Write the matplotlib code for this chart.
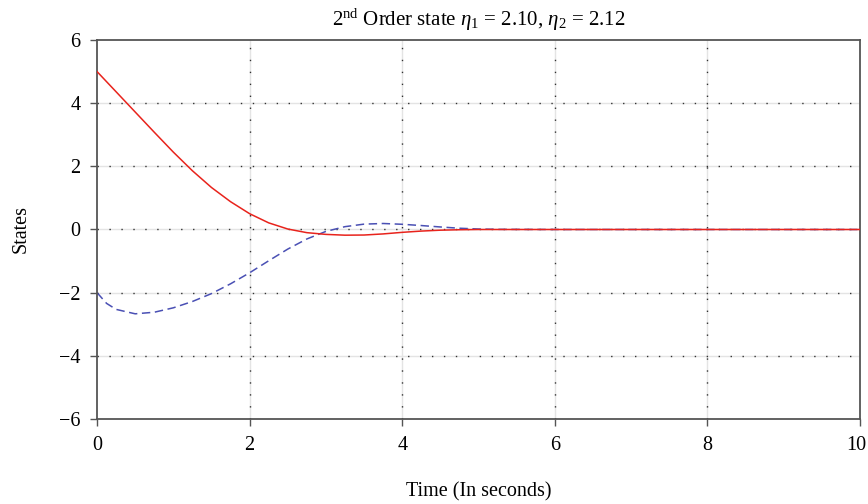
import numpy as np
import matplotlib
matplotlib.use("Agg")
import matplotlib.pyplot as plt
import matplotlib.transforms as mtransforms

# time samples (s) and states
t = [0.0, 0.125, 0.25, 0.5, 0.75, 1.0, 1.25, 1.5, 1.75, 2.0, 2.25, 2.5, 2.75,
     3.0, 3.25, 3.5, 3.75, 4.0, 4.25, 4.5, 4.75, 5.0, 5.25, 6.0, 8.0, 10.0]
x1 = [5.0, 4.68, 4.36, 3.72, 3.08, 2.45, 1.86, 1.33, 0.88, 0.5, 0.21, 0.015, -0.1,
      -0.155, -0.18, -0.175, -0.14, -0.09, -0.05, -0.022, -0.008, 0.0, 0.0, 0.0, 0.0, 0.0]
x2 = [-2.0, -2.34, -2.53, -2.67, -2.62, -2.48, -2.28, -2.03, -1.72, -1.37, -0.99, -0.62, -0.3,
      -0.06, 0.09, 0.17, 0.19, 0.165, 0.125, 0.08, 0.04, 0.015, 0.005, 0.0, 0.0, 0.0]

xticks = [0, 2, 4, 6, 8, 10]
yticks = [-6, -4, -2, 0, 2, 4, 6]

plt.rcParams["font.family"] = ["Liberation Serif", "DejaVu Serif"]
plt.rcParams["mathtext.fontset"] = "custom"
plt.rcParams["mathtext.rm"] = "Liberation Serif"
plt.rcParams["mathtext.it"] = "Liberation Serif:italic"

fig = plt.figure(figsize=(8.68, 5.04), dpi=100)
ax = fig.add_axes([0.1118, 0.1687, 0.879, 0.7519])

# grid: faint solid line with dark dots on top
for v in xticks[1:-1]:
    ax.axvline(v, color="#e4e4e4", lw=1.0, zorder=0)
    ax.axvline(v, color="#333333", lw=1.0, ls=(0, (1, 7.6)), zorder=0.5)
for v in yticks[1:-1]:
    ax.axhline(v, color="#e4e4e4", lw=1.0, zorder=0)
    ax.axhline(v, color="#333333", lw=1.0, ls=(0, (1, 7.6)), zorder=0.5)

ax.plot(t, x1, color="#e8231c", lw=1.1, zorder=3)
ax.plot(t, x2, color="#4a50b4", lw=1.1, ls=(0, (5.5, 3)), zorder=2)

ax.set_xlim(0, 10)
ax.set_ylim(-6, 6)
ax.set_xticks(xticks)
ax.set_yticks(yticks)
ax.set_yticklabels(["\u22126", "\u22124", "\u22122", "0", "2", "4", "6"])
ax.tick_params(direction="out", length=5, width=1, color="#555555",
               labelsize=14.5, pad=7)
for s in ax.spines.values():
    s.set_color("#555555")
    s.set_linewidth(1.3)

# keep the last x label inside the figure
last = ax.get_xticklabels()[-1]
last.set_transform(last.get_transform() +
                   mtransforms.ScaledTranslation(-3 / 72, 0, fig.dpi_scale_trans))

ax.set_title(r"2$^{\mathrm{nd}}$ Order state $\eta_1$ = 2.10, $\eta_2$ = 2.12",
             fontsize=15, pad=10)
ax.set_xlabel("Time (In seconds)", fontsize=14.5, labelpad=20)
ax.set_ylabel("States", fontsize=14.5, labelpad=20)

fig.savefig("out.png", dpi=100)
